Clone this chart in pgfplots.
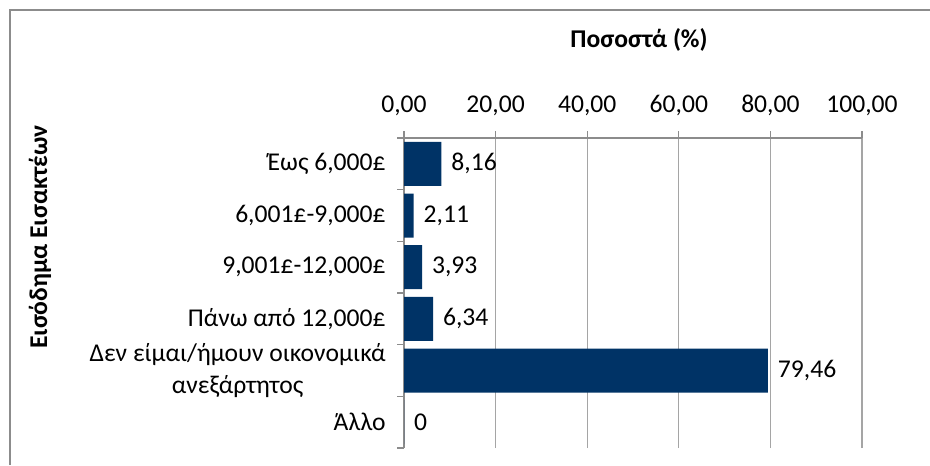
\documentclass[border=0pt]{standalone}
\usepackage{pgfplots}
\pgfplotsset{compat=1.18}
\usepackage{fontspec}
\setmainfont{Carlito}
\definecolor{barblue}{RGB}{0,51,102}
\definecolor{gridgray}{RGB}{165,165,165}
\definecolor{framegray}{RGB}{140,140,140}
\newcommand{\chartfont}{\fontsize{19.2}{23.5}\selectfont}
\begin{document}
\begin{tikzpicture}[x=0.75pt,y=0.75pt]
\path[use as bounding box] (0,0) rectangle (930,465);
\draw[framegray, line width=1.5pt] (10,0) -- (10,455) -- (930,455);
\node[font=\bfseries\chartfont] at (639,425) {Ποσοστά (\%)};
\node[font=\bfseries\chartfont, rotate=90] at (40,228) {Εισόδημα Εισακτέων};
\begin{axis}[
  at={(303pt,12.75pt)}, anchor=south west,
  scale only axis, width=343.5pt, height=232.5pt,
  xbar, bar width=33pt,
  xmin=0, xmax=100,
  ymin=-0.5, ymax=5.5,
  axis x line=top, axis y line=left,
  axis line style={-, draw=framegray, line width=0.8pt},
  tick align=outside,
  major tick length=5.25pt, minor tick length=5.25pt,
  xtick={0,20,...,100},
  xticklabel={\pgfmathprintnumber[fixed,fixed zerofill,precision=2,use comma]{\tick}},
  x tick label style={yshift=8pt},
  xmajorgrids,
  grid style={draw=gridgray, line width=0.8pt},
  every major x tick/.append style={draw=framegray, line width=0.8pt},
  ytick={0,1,2,3,4,5},
  yticklabels={{Άλλο},{Δεν είμαι/ήμουν οικονομικά\\ανεξάρτητος},{Πάνω από 12,000£},{9,001£-12,000£},{6,001£-9,000£},{Έως 6,000£}},
  every major y tick/.append style={draw=none},
  minor ytick={-0.5,0.5,...,5.5},
  every minor y tick/.append style={draw=framegray, line width=0.8pt},
  y tick label style={align=center, xshift=-5pt},
  tick label style={font=\chartfont, text=black},
  /pgf/number format/assume math mode=true,
  nodes near coords={\pgfmathprintnumber[fixed,precision=2,use comma,assume math mode=true]{\pgfplotspointmeta}},
  nodes near coords align=horizontal,
  every node near coord/.append style={font=\chartfont, text=black, xshift=4pt},
]
\addplot[fill=barblue, draw=none] coordinates {
  (0,0) (79.46,1) (6.34,2) (3.93,3) (2.11,4) (8.16,5)
};
\end{axis}
\end{tikzpicture}
\end{document}
